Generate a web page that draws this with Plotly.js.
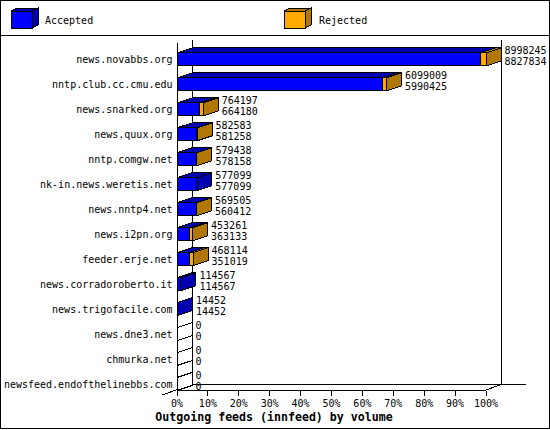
<!DOCTYPE html>
<html>
<head>
<meta charset="utf-8">
<script src="https://cdn.plot.ly/plotly-3.0.1.min.js"></script>
<style>
html,body{margin:0;padding:0;background:#fff;overflow:hidden}
#chart{width:550px;height:430px}
svg path{shape-rendering:crispEdges}
</style>
</head>
<body>
<div id="chart"></div>
<script>
const categories = ["news.novabbs.org","nntp.club.cc.cmu.edu","news.snarked.org","news.quux.org","nntp.comgw.net","nk-in.news.weretis.net","news.nntp4.net","news.i2pn.org","feeder.erje.net","news.corradoroberto.it","news.trigofacile.com","news.dne3.net","chmurka.net","newsfeed.endofthelinebbs.com"];
const totals = [8998245,6099009,764197,582583,579438,577099,569505,453261,468114,114567,14452,0,0,0];
const accepted = [8827834,5990425,664180,581258,578158,577099,560412,363133,351019,114567,14452,0,0,0];
const seriesNames = ["Accepted","Rejected"];
const xTicks = [0,10,20,30,40,50,60,70,80,90,100];
const chartTitle = "Outgoing feeds (innfeed) by volume";

const BLUE="#0000ff", DBLUE="#0000b0", ORANGE="#ffaa00", DORANGE="#b07800";
const FONT="'DejaVu Sans Mono', monospace";
const L=177, R=486, PR=550, T=36, B=390.5;
const pxX=(R-L)/100, rowH=25, y0=59.5;
const dx=15/pxX, dy=5/rowH, hh=6.5/rowH;
const maxV=Math.max(...totals);
const pct=v=>v/maxV*100;
const yRange=[(B-y0)/rowH,(T-y0)/rowH];
const rows=categories.map((_,i)=>i);

const px=x=>(x-L)/(PR-L), py=y=>(B-y)/(B-T);
function line(x0,y0_,x1,y1,w){return {type:'line',xref:'paper',yref:'paper',layer:'below',x0:px(x0),y0:py(y0_),x1:px(x1),y1:py(y1),line:{color:'#000',width:w||1}};}
function box(x0,y0_,x1,y1,fill,w){return {type:'rect',xref:'paper',yref:'paper',layer:'below',x0:px(x0),y0:py(y0_),x1:px(x1),y1:py(y1),fillcolor:fill,line:{color:'#000',width:w===undefined?1:w}};}
function poly(pts,fill){let d=pts.map((p,i)=>(i?'L':'M')+px(p[0])+','+py(p[1])).join(' ')+' Z';return {type:'path',xref:'paper',yref:'paper',layer:'below',path:d,fillcolor:fill,line:{color:'#000',width:1}};}

function legendBox(x,c,d){return [
  box(x,11,x+21,28,c),
  poly([[x,11],[x+6,8],[x+27,8],[x+21,11]],d),
  poly([[x+21,11],[x+27,8],[x+27,25],[x+21,28]],d)
];}

const shapes=[
  box(0.5,0.5,549.5,429.5,'rgba(0,0,0,0)'),
  line(0,35.5,550,35.5),
  ...legendBox(11,BLUE,DBLUE),
  ...legendBox(284,ORANGE,DORANGE),
  line(177,43,177,390.5),
  line(192,40,192,385),
  line(501,40,501,385),
  line(192,385,526,385),
  line(177,390.5,486,390.5),
  line(162,395.5,192,385),
  line(486,390.5,501,385)
];

function face(pts,fill){
  return {type:'scatter',mode:'lines',x:pts.map(p=>p[0]),y:pts.map(p=>p[1]),fill:'toself',fillcolor:fill,
    line:{color:'#000',width:1},hoverinfo:'skip',showlegend:false,cliponaxis:false};
}
const traces=[
  {type:'bar',orientation:'h',y:rows,x:accepted.map(pct),width:hh*2,marker:{color:BLUE,line:{color:'#000',width:1}},name:seriesNames[0],hoverinfo:'skip',showlegend:false},
  {type:'bar',orientation:'h',y:rows,x:totals.map((t,i)=>pct(t-accepted[i])),width:hh*2,marker:{color:ORANGE,line:{color:'#000',width:1}},name:seriesNames[1],hoverinfo:'skip',showlegend:false}
];
rows.forEach(i=>{
  const a=pct(accepted[i]), t=pct(totals[i]), top=i-hh, bot=i+hh;
  if(totals[i]===0){
    traces.push(face([[0,top],[dx,top-dy],[dx,bot-dy],[0,bot],[0,top]],'#ffffff'));
    return;
  }
  traces.push(face([[0,top],[dx,top-dy],[a+dx,top-dy],[a,top],[0,top]],DBLUE));
  if(t>a) traces.push(face([[a,top],[a+dx,top-dy],[t+dx,top-dy],[t,top],[a,top]],DORANGE));
  traces.push(face([[t,top],[t+dx,top-dy],[t+dx,bot-dy],[t,bot],[t,top]],t>a?DORANGE:DBLUE));
});
const gap=3.5/pxX;
traces.push({type:'scatter',mode:'text',x:totals.map(v=>pct(v)+dx+gap),y:rows.map(i=>i-7.5/rowH),text:totals.map(String),textposition:'middle right',textfont:{family:FONT,size:10,color:'#000'},hoverinfo:'skip',showlegend:false,cliponaxis:false});
traces.push({type:'scatter',mode:'text',x:totals.map(v=>pct(v)+dx+gap),y:rows.map(i=>i+3.5/rowH),text:accepted.map(String),textposition:'middle right',textfont:{family:FONT,size:10,color:'#000'},hoverinfo:'skip',showlegend:false,cliponaxis:false});

const layout={
  width:550,height:430,margin:{l:L,r:550-PR,t:T,b:430-B,pad:0},
  paper_bgcolor:'#fff',plot_bgcolor:'rgba(0,0,0,0)',barmode:'stack',showlegend:false,
  font:{family:FONT,size:10,color:'#000'},
  title:{text:chartTitle,font:{family:FONT,size:11.6,weight:'bold',color:'#000'},x:274/550,xanchor:'center',xref:'container',y:1-417/430,yanchor:'middle',yref:'container'},
  xaxis:{range:[0,(PR-L)/pxX],tickvals:xTicks,ticktext:xTicks.map(v=>v+'%'),showgrid:false,zeroline:false,showline:false,
    ticks:'outside',ticklen:5,tickcolor:'#000',tickwidth:1,ticklabelstandoff:-1,tickfont:{family:FONT,size:10,color:'#000'},automargin:false},
  yaxis:{range:yRange,tickvals:rows,ticktext:categories,showgrid:false,zeroline:false,showline:false,ticks:'outside',ticklen:1.5,tickcolor:'rgba(0,0,0,0)',
    tickfont:{family:FONT,size:10,color:'#000'},automargin:false},
  shapes:shapes,
  annotations:[
    {xref:'paper',yref:'paper',x:px(42.5),y:py(20),xanchor:'left',yanchor:'middle',text:seriesNames[0],showarrow:false,font:{family:FONT,size:10,color:'#000'}},
    {xref:'paper',yref:'paper',x:px(317),y:py(20),xanchor:'left',yanchor:'middle',text:seriesNames[1],showarrow:false,font:{family:FONT,size:10,color:'#000'}}
  ]
};
Plotly.newPlot('chart',traces,layout,{displayModeBar:false,staticPlot:true});
</script>
</body>
</html>
